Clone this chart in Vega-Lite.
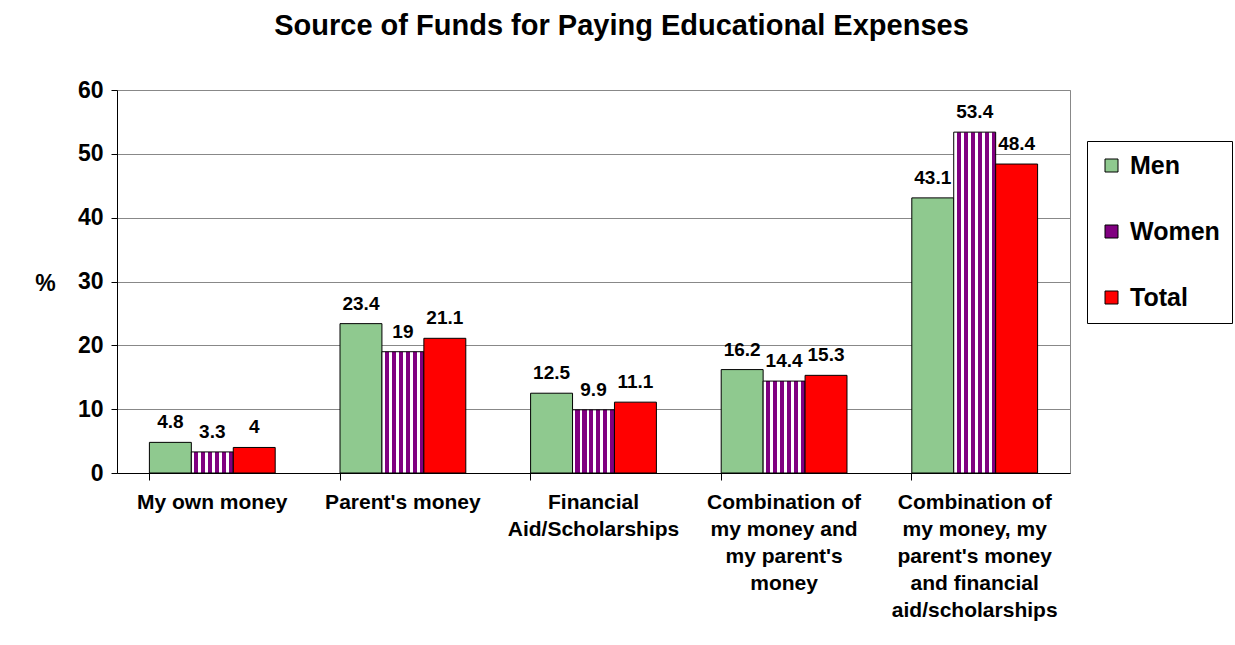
{
  "$schema": "https://vega.github.io/schema/vega-lite/v6.json",
  "autosize": "none",
  "width": 953,
  "height": 383,
  "padding": {"left": 117, "top": 90, "right": 165, "bottom": 172},
  "background": "white",
  "title": {
    "text": "Source of Funds for Paying Educational Expenses",
    "font": "Liberation Sans",
    "fontSize": 29,
    "fontWeight": "bold",
    "color": "black",
    "anchor": "middle",
    "frame": "group",
    "dx": 28,
    "baseline": "alphabetic",
    "offset": 15
  },
  "data": {
    "values": [
      {"source": "My own money", "group": "Men", "pct": 4.8},
      {"source": "My own money", "group": "Women", "pct": 3.3},
      {"source": "My own money", "group": "Total", "pct": 4},
      {"source": "Parent's money", "group": "Men", "pct": 23.4},
      {"source": "Parent's money", "group": "Women", "pct": 19},
      {"source": "Parent's money", "group": "Total", "pct": 21.1},
      {"source": "Financial Aid/Scholarships", "group": "Men", "pct": 12.5},
      {"source": "Financial Aid/Scholarships", "group": "Women", "pct": 9.9},
      {"source": "Financial Aid/Scholarships", "group": "Total", "pct": 11.1},
      {"source": "Combination of my money and my parent's money", "group": "Men", "pct": 16.2},
      {"source": "Combination of my money and my parent's money", "group": "Women", "pct": 14.4},
      {"source": "Combination of my money and my parent's money", "group": "Total", "pct": 15.3},
      {"source": "Combination of my money, my parent's money and financial aid/scholarships", "group": "Men", "pct": 43.1},
      {"source": "Combination of my money, my parent's money and financial aid/scholarships", "group": "Women", "pct": 53.4},
      {"source": "Combination of my money, my parent's money and financial aid/scholarships", "group": "Total", "pct": 48.4}
    ]
  },
  "encoding": {
    "x": {
      "field": "source",
      "type": "nominal",
      "sort": null,
      "title": null,
      "scale": {"paddingInner": 0.34, "paddingOuter": 0.17},
      "axis": {
        "labelAngle": 0,
        "labelFont": "Liberation Sans",
        "labelFontSize": 21,
        "labelFontWeight": "bold",
        "labelColor": "black",
        "labelLineHeight": 27,
        "labelPadding": 11,
        "labelLimit": 400,
        "bandPosition": 0,
        "tickSize": 7,
        "tickColor": "black",
        "domainColor": "black",
        "labelExpr": "datum.value == 'Financial Aid/Scholarships' ? ['Financial', 'Aid/Scholarships'] : datum.value == \"Combination of my money and my parent's money\" ? ['Combination of', 'my money and', \"my parent's\", 'money'] : datum.value == \"Combination of my money, my parent's money and financial aid/scholarships\" ? ['Combination of', 'my money, my', \"parent's money\", 'and financial', 'aid/scholarships'] : datum.value"
      }
    },
    "xOffset": {
      "field": "group",
      "type": "nominal",
      "sort": ["Men", "Women", "Total"],
      "scale": {"paddingInner": 0, "paddingOuter": 0}
    },
    "y": {
      "field": "pct",
      "type": "quantitative",
      "title": "%",
      "scale": {"domain": [0, 60], "nice": false},
      "axis": {
        "values": [0, 10, 20, 30, 40, 50, 60],
        "labelFont": "Liberation Sans",
        "labelFontSize": 23,
        "labelFontWeight": "bold",
        "labelColor": "black",
        "labelPadding": 8,
        "tickSize": 6,
        "tickColor": "black",
        "domainColor": "black",
        "gridColor": "#888888",
        "titleFont": "Liberation Sans",
        "titleFontSize": 23,
        "titleFontWeight": "bold",
        "titleColor": "black",
        "titleAngle": 0,
        "titleAlign": "center",
        "titleBaseline": "middle",
        "titleX": -72,
        "titleY": 193
      }
    }
  },
  "layer": [
    {
      "mark": {"type": "bar", "stroke": "black", "strokeWidth": 1},
      "encoding": {
        "fill": {
          "condition": {
            "test": "datum.group === 'Women'",
            "value": {
              "gradient": "linear",
              "x1": 0, "y1": 0, "x2": 1, "y2": 0,
              "stops": [
                {"offset": 0, "color": "#ffffff"},
                {"offset": 0.07, "color": "#ffffff"},
                {"offset": 0.07, "color": "#800080"},
                {"offset": 0.1667, "color": "#800080"},
                {"offset": 0.1667, "color": "#ffffff"},
                {"offset": 0.2367, "color": "#ffffff"},
                {"offset": 0.2367, "color": "#800080"},
                {"offset": 0.3333, "color": "#800080"},
                {"offset": 0.3333, "color": "#ffffff"},
                {"offset": 0.4033, "color": "#ffffff"},
                {"offset": 0.4033, "color": "#800080"},
                {"offset": 0.5, "color": "#800080"},
                {"offset": 0.5, "color": "#ffffff"},
                {"offset": 0.57, "color": "#ffffff"},
                {"offset": 0.57, "color": "#800080"},
                {"offset": 0.6667, "color": "#800080"},
                {"offset": 0.6667, "color": "#ffffff"},
                {"offset": 0.7367, "color": "#ffffff"},
                {"offset": 0.7367, "color": "#800080"},
                {"offset": 0.8333, "color": "#800080"},
                {"offset": 0.8333, "color": "#ffffff"},
                {"offset": 0.9033, "color": "#ffffff"},
                {"offset": 0.9033, "color": "#800080"},
                {"offset": 1, "color": "#800080"}
              ]
            }
          },
          "field": "group",
          "type": "nominal",
          "scale": {"domain": ["Men", "Women", "Total"], "range": ["#8fc98f", "#800080", "#ff0000"]},
          "legend": {
            "title": null,
            "orient": "none",
            "legendX": 970,
            "legendY": 51,
            "strokeColor": "black",
            "fillColor": "white",
            "padding": 12,
            "rowPadding": 40,
            "symbolType": "square",
            "symbolSize": 169,
            "symbolStrokeColor": "black",
            "symbolStrokeWidth": 1,
            "symbolOpacity": 1,
            "labelOffset": 6,
            "labelFont": "Liberation Sans",
            "labelFontSize": 25,
            "labelFontWeight": "bold",
            "labelColor": "black"
          }
        }
      }
    },
    {
      "mark": {
        "type": "text",
        "font": "Liberation Sans",
        "fontSize": 19,
        "fontWeight": "bold",
        "color": "black",
        "baseline": "alphabetic",
        "dy": -14
      },
      "encoding": {
        "text": {"field": "pct", "type": "quantitative", "format": ".3~r"}
      }
    }
  ],
  "config": {
    "view": {"stroke": "#888888"},
    "axis": {"grid": false},
    "axisY": {"grid": true}
  }
}
